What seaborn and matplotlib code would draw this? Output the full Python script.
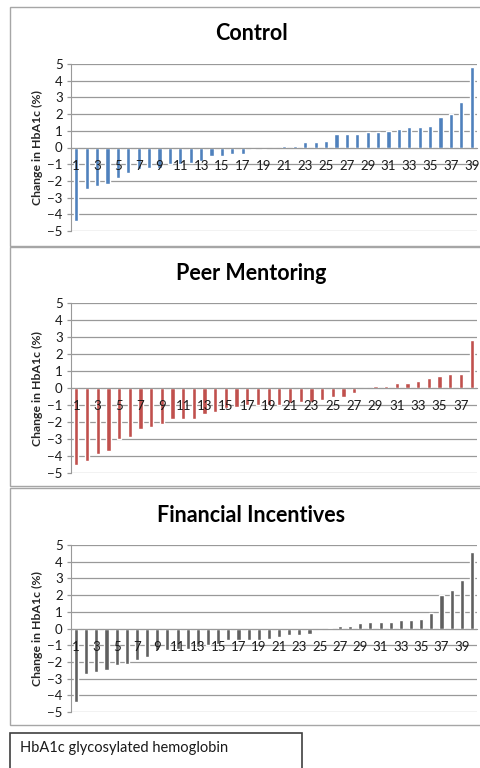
import matplotlib
matplotlib.use("Agg")
import matplotlib.pyplot as plt
from matplotlib.patches import Rectangle
import seaborn as sns
import pandas as pd

# change in HbA1c (%) per participant, sorted
control = [-4.4, -2.5, -2.3, -2.2, -1.8, -1.5, -1.3, -1.2, -1.2, -1.0,
           -1.0, -0.9, -0.8, -0.5, -0.5, -0.4, -0.4, -0.1, -0.1, 0.0,
           0.1, 0.1, 0.3, 0.3, 0.4, 0.8, 0.8, 0.8, 0.9, 0.9,
           1.0, 1.1, 1.2, 1.2, 1.3, 1.8, 2.0, 2.7, 4.8]
peer_mentoring = [-4.5, -4.3, -3.9, -3.7, -3.0, -2.9, -2.4, -2.3, -2.1, -1.8,
                  -1.8, -1.8, -1.5, -1.4, -1.2, -1.1, -1.0, -1.0, -1.0, -1.0,
                  -0.9, -0.8, -0.8, -0.7, -0.5, -0.5, -0.3, 0.0, 0.1, 0.1,
                  0.3, 0.3, 0.4, 0.6, 0.7, 0.8, 0.8, 2.8]
financial = [-4.4, -2.7, -2.6, -2.5, -2.2, -2.1, -1.9, -1.7, -1.3, -1.3,
             -1.2, -1.2, -1.1, -1.0, -0.9, -0.7, -0.7, -0.7, -0.7, -0.6,
             -0.5, -0.4, -0.4, -0.3, 0.0, 0.05, 0.15, 0.15, 0.3, 0.4,
             0.4, 0.4, 0.5, 0.5, 0.55, 0.9, 2.0, 2.3, 2.9, 4.6]

titles = ["Control", "Peer Mentoring", "Financial Incentives"]
colors = ["#4f81bd", "#c0504d", "#606060"]
y_ticks = [-5, -4, -3, -2, -1, 0, 1, 2, 3, 4, 5]
caption = "HbA1c glycosylated hemoglobin"

sns.set_style("white")
plt.rcParams["font.family"] = ["Lato", "DejaVu Sans"]

W, H = 480, 768
fig = plt.figure(figsize=(W / 100, H / 100), dpi=100)


def fig_rect(x0, y0, x1, y1):
    # pixel box (top-left origin) -> figure fraction
    return [x0 / W, 1 - y1 / H, (x1 - x0) / W, (y1 - y0) / H]


boxes = [(10, 7, 481, 246), (10, 247, 481, 486), (10, 488, 481, 725)]
axes_px = [(71, 64, 477, 231), (71, 303, 477, 473), (71, 545, 477, 712)]
title_y = [33, 273, 515]

for vals, title, col, box, apx, ty in zip(
        [control, peer_mentoring, financial], titles, colors, boxes, axes_px, title_y):
    x0, y0, x1, y1 = box
    fig.add_artist(Rectangle((x0 / W, 1 - y1 / H), (x1 - x0) / W, (y1 - y0) / H,
                             transform=fig.transFigure, fill=False,
                             ec="#a6a6a6", lw=1.0))
    fig.text(251 / W, 1 - ty / H, title, ha="center", va="center",
             fontsize=15.5, fontweight="bold", color="black")

    df = pd.DataFrame({"participant": range(1, len(vals) + 1), "change": vals})
    ax = fig.add_axes(fig_rect(*apx))
    sns.barplot(data=df, x="participant", y="change", color=col,
                width=0.4, saturation=1, ax=ax)
    n = len(vals)
    ax.set_xlim(-0.5, n - 0.5)
    ax.set_ylim(-5, 5)
    ax.set_yticks(y_ticks)
    ax.set_xticks(range(0, n, 2), [str(i) for i in range(1, n + 1, 2)])
    ax.grid(axis="y", color="#999999", lw=0.9)
    ax.set_axisbelow(True)
    ax.xaxis.set_zorder(3)
    for s in ["top", "right"]:
        ax.spines[s].set_visible(False)
    ax.spines["bottom"].set_position(("data", 0))
    ax.spines["bottom"].set_color("#999999")
    ax.spines["left"].set_color("#999999")
    ax.tick_params(axis="x", length=0, pad=9, labelsize=9.5, colors="#1a1a1a")
    ax.tick_params(axis="y", left=True, length=3, width=0.9, color="#999999",
                   pad=3, labelsize=9.5, labelcolor="#1a1a1a")
    ax.set_xlabel("")
    ax.set_ylabel("Change in HbA1c (%)", fontsize=8.8, fontweight="bold",
                  labelpad=3)

fig.add_artist(Rectangle((10 / W, 1 - 770 / H), 292 / W, 37 / H,
                         transform=fig.transFigure, fill=False,
                         ec="#404040", lw=1.2))
fig.text(20 / W, 1 - 748 / H, caption, ha="left", va="center",
         fontsize=10.5, color="#1a1a1a")

fig.savefig("out.png", dpi=100, facecolor="white")
